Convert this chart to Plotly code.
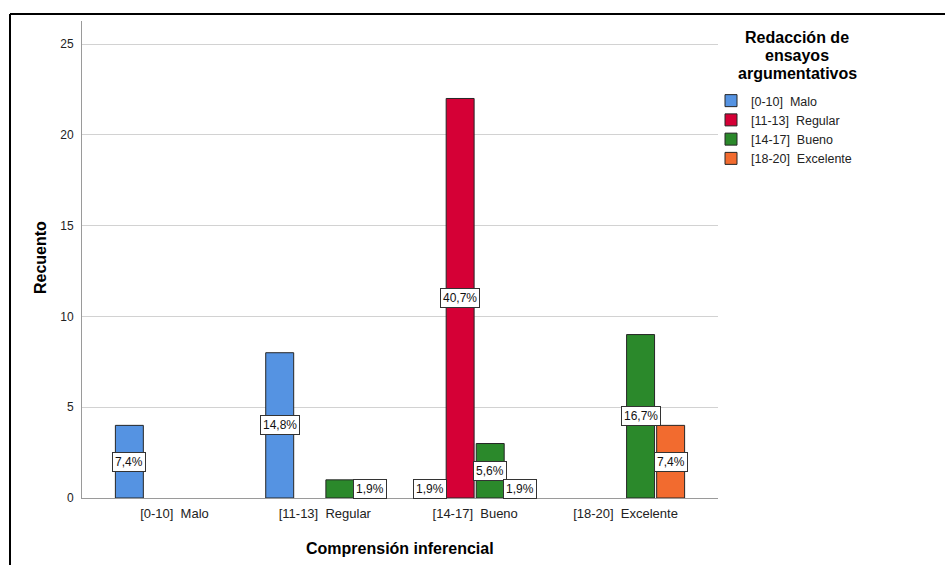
import plotly.graph_objects as go

# Categories of "Comprensión inferencial" (x axis)
categories = ["[0-10]\u00a0 Malo", "[11-13]\u00a0 Regular", "[14-17]\u00a0 Bueno", "[18-20]\u00a0 Excelente"]

# Series: "Redacción de ensayos argumentativos" levels
series_names = ["[0-10]\u00a0 Malo", "[11-13]\u00a0 Regular", "[14-17]\u00a0 Bueno", "[18-20]\u00a0 Excelente"]
counts_malo = [4, 8, 1, 0]
counts_regular = [0, 0, 22, 0]
counts_bueno = [0, 1, 3, 9]
counts_excelente = [0, 1, 1, 4]
# which bars carry a percentage label
labelled_malo = [True, True, True, False]
labelled_regular = [False, False, True, False]
labelled_bueno = [False, False, True, True]
labelled_excelente = [False, True, True, True]

y_ticks = [0, 5, 10, 15, 20, 25]

series_counts = [counts_malo, counts_regular, counts_bueno, counts_excelente]
series_labelled = [labelled_malo, labelled_regular, labelled_bueno, labelled_excelente]
colors = ["#5593E2", "#D50036", "#2B892B", "#F26B2F"]
total = sum(sum(c) for c in series_counts)

W, H = 945, 565
L, R, T, B = 82, 718, 21, 498  # plot area in pixels
BARGAP = 0.2
N_SERIES = len(series_counts)
slot = (1 - BARGAP) / N_SERIES
FONT = "Liberation Sans, Arial"

fig = go.Figure()
x_idx = list(range(len(categories)))
for j, (name, counts) in enumerate(zip(series_names, series_counts)):
    fig.add_trace(go.Bar(
        x=x_idx, y=[c if c > 0 else None for c in counts], name=name,
        marker=dict(color=colors[j], line=dict(color="#262626", width=1)),
        offsetgroup=str(j),
        hoverinfo="skip",
    ))

annotations = []
for j, (counts, lab) in enumerate(zip(series_counts, series_labelled)):
    for i, (c, show) in enumerate(zip(counts, lab)):
        if c > 0 and show:
            pct = f"{c / total * 100:.1f}%".replace(".", ",")
            annotations.append(dict(
                x=i + (j - (N_SERIES - 1) / 2) * slot, y=c / 2,
                xref="x", yref="y", text=pct, showarrow=False,
                font=dict(family=FONT, size=12, color="#111"),
                bgcolor="white", bordercolor="#333", borderwidth=1, borderpad=2,
            ))

def px_x(p):
    return (p - L) / (R - L)

def px_y(p):
    return (B - p) / (B - T)

# axis titles
annotations.append(dict(
    x=px_x(400), y=px_y(548), xref="paper", yref="paper", text="<b>Comprensión inferencial</b>",
    showarrow=False, font=dict(family=FONT, size=16, color="#000"),
    xanchor="center", yanchor="middle"))
annotations.append(dict(
    x=px_x(40), y=px_y(258), xref="paper", yref="paper", text="<b>Recuento</b>", textangle=-90,
    showarrow=False, font=dict(family=FONT, size=16, color="#000"),
    xanchor="center", yanchor="middle"))

# legend title
for line, py in zip(["Redacción de", "ensayos", "argumentativos"], [38, 56, 73]):
    annotations.append(dict(
        x=px_x(797), y=px_y(py), xref="paper", yref="paper", text=f"<b>{line}</b>",
        showarrow=False, font=dict(family=FONT, size=16, color="#000"),
        xanchor="center", yanchor="middle"))

shapes = [
    # outer frame
    dict(type="line", xref="paper", yref="paper", x0=px_x(10), x1=px_x(10), y0=px_y(570), y1=px_y(14),
         line=dict(color="#000", width=2)),
    dict(type="line", xref="paper", yref="paper", x0=px_x(10), x1=px_x(950), y0=px_y(14), y1=px_y(14),
         line=dict(color="#000", width=2)),
]

y_top = 25 + (44 - T) / ((B - 44) / 25)

fig.update_layout(
    width=W, height=H,
    margin=dict(l=L, r=W - R, t=T, b=H - B),
    paper_bgcolor="white", plot_bgcolor="white",
    barmode="group", bargap=BARGAP, bargroupgap=0.07,
    font=dict(family=FONT, size=12, color="#222"),
    xaxis=dict(
        range=[-0.615, 3.615], tickvals=x_idx, ticktext=categories,
        showgrid=False, zeroline=False, showline=True, linecolor="#9a9a9a", linewidth=1,
        ticks="", ticklabelstandoff=3, tickfont=dict(size=13, color="#222"), fixedrange=True,
    ),
    yaxis=dict(
        range=[0, y_top], tickvals=y_ticks, ticktext=[str(v) for v in y_ticks],
        showgrid=True, gridcolor="#d2d2d2", gridwidth=1, zeroline=False,
        showline=True, linecolor="#9a9a9a", linewidth=1,
        ticks="", ticklabelstandoff=5, tickfont=dict(size=12, color="#222"),
    ),
    legend=dict(
        x=px_x(711), y=px_y(86), xanchor="left", yanchor="top",
        font=dict(family=FONT, size=12.5, color="#222"),
        bgcolor="rgba(0,0,0,0)", tracegroupgap=0, itemwidth=30,
    ),
    annotations=annotations,
    shapes=shapes,
)

fig.write_html("out.html")
